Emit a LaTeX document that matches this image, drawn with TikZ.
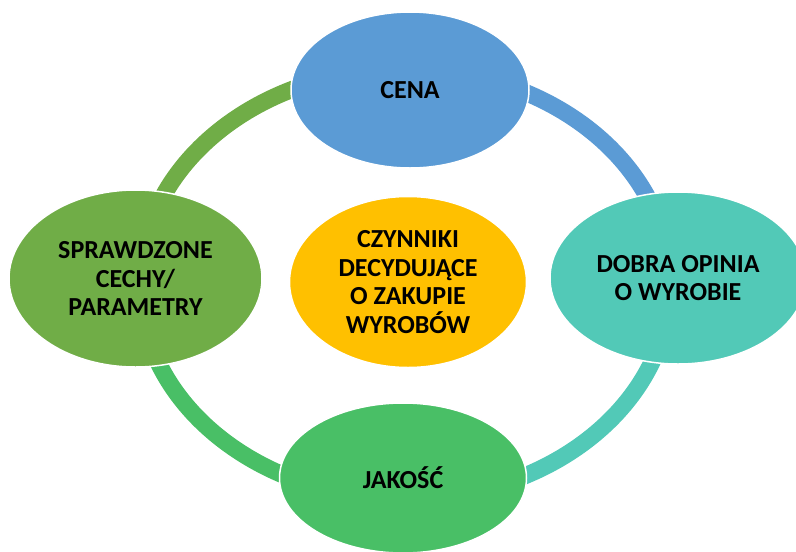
\documentclass[tikz,border=0pt]{standalone}
\usepackage{fontspec}
\setmainfont{Carlito}
\usetikzlibrary{shapes.geometric}

\definecolor{cenablue}{HTML}{5B9BD5}
\definecolor{opiniateal}{HTML}{52C9B7}
\definecolor{jakoscgreen}{HTML}{49BF66}
\definecolor{cechyolive}{HTML}{70AD47}
\definecolor{coreyellow}{HTML}{FFC000}

\begin{document}
\begin{tikzpicture}[%
      x=1pt, y=-1pt,
      bubble/.style={ellipse, draw=white, line width=1.5pt, inner sep=0pt,
        align=center, text=black,
        font=\bfseries\fontsize{26}{28.5}\selectfont},
      ringarc/.style={line width=17pt},
      ]
      \useasboundingbox (0,0) rectangle (796,552);

      \coordinate (ring) at (405,284);

      \draw [ringarc, color=cenablue] (ring) ++(-90:265 and 215)
        arc [start angle=-90, end angle=0, x radius=265, y radius=215];
      \draw [ringarc, color=opiniateal] (ring) ++(0:265 and 215)
        arc [start angle=0, end angle=90, x radius=265, y radius=215];
      \draw [ringarc, color=jakoscgreen] (ring) ++(90:265 and 215)
        arc [start angle=90, end angle=180, x radius=265, y radius=215];
      \draw [ringarc, color=cechyolive] (ring) ++(180:265 and 215)
        arc [start angle=180, end angle=270, x radius=265, y radius=215];

      \node [bubble, fill=cenablue, minimum width=238pt, minimum height=156pt]
        (cena) at (410,90) {CENA};
      \node [bubble, fill=opiniateal, minimum width=256pt, minimum height=172pt]
        (opinia) at (678,278) {DOBRA OPINIA\\O WYROBIE};
      \node [bubble, fill=jakoscgreen, minimum width=247pt, minimum height=150pt]
        (jakosc) at (403,478) {JAKOŚĆ};
      \node [bubble, fill=cechyolive, minimum width=253pt, minimum height=177pt]
        (cechy) at (135.5,278.5) {SPRAWDZONE\\CECHY/\\PARAMETRY};
      \node [bubble, fill=coreyellow, minimum width=237pt, minimum height=171pt]
        (czynniki) at (408,282) {CZYNNIKI\\DECYDUJĄCE\\O ZAKUPIE\\WYROBÓW};
\end{tikzpicture}
\end{document}
